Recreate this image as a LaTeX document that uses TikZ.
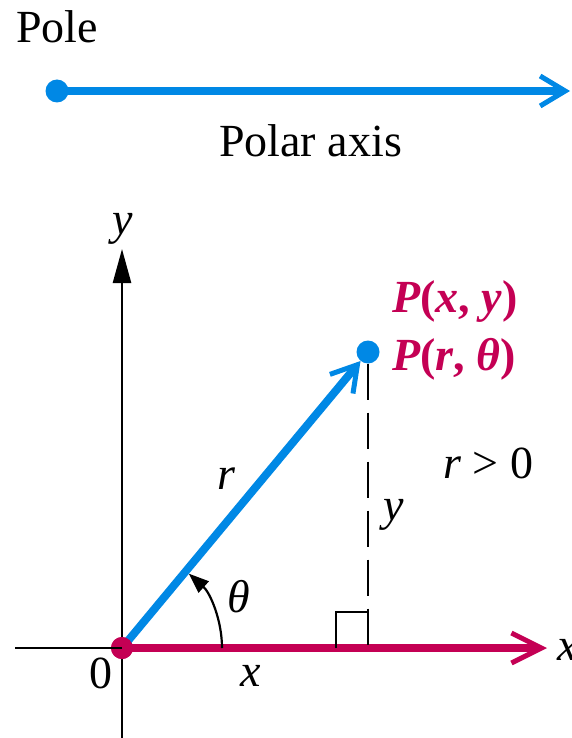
\documentclass[tikz,border=0pt]{standalone}
\usepackage{fontspec}
\setmainfont{Liberation Serif}
\usetikzlibrary{arrows.meta}
\definecolor{polblue}{RGB}{0,136,229}
\definecolor{polmag}{RGB}{196,0,84}
\begin{document}
\begin{tikzpicture}[x=1pt,y=-1pt,
  lbl/.style={inner sep=0pt, anchor=base west, font=\fontsize{46}{50}\selectfont},
  maglbl/.style={lbl, text=polmag, font=\fontsize{46}{50}\selectfont\bfseries},
  bluedot/.style={circle, fill=polblue, inner sep=0pt, minimum size=23pt},
  magdot/.style={circle, fill=polmag, inner sep=0pt, minimum size=22pt},
  bluevec/.style={draw=polblue, line width=8pt,
    -{Straight Barb[length=25pt, width=30pt, line width=5pt]}},
  magvec/.style={draw=polmag, line width=8pt,
    -{Straight Barb[length=30pt, width=30pt, line width=5pt]}},
  axisline/.style={draw=black, line width=2.5pt},
  helper/.style={draw=black, line width=2.5pt}
]
\useasboundingbox (0,0) rectangle (572,738);

% ---- top: pole and polar axis
\node[lbl] (poletxt) at (16,43) {Pole};
\node[bluedot] (pole) at (57,91) {};
\coordinate (axisend) at (570,91);
\draw[bluevec] (pole.center) -- (axisend);
\node[lbl] (axistxt) at (219,157) {Polar axis};

% ---- bottom: coordinate system
\coordinate (ybot) at (122,738);
\coordinate (ytop) at (122,249);
\coordinate (xleft) at (15,648);
\draw[axisline, -{Triangle[length=34pt, width=18pt]}] (ybot) -- (ytop);
\node[lbl] (ylab) at (112,234) {\textit{y}};

\node[magdot] (O) at (122,648) {};
\draw[axisline] (xleft) -- (O.center);
\coordinate (xend) at (547,648);
\draw[magvec] (O.center) -- (xend);
\node[lbl] (xlab) at (557,660) {\textit{x}};

% right angle mark and dashed line
\node[bluedot] (P) at (368,352) {};
\coordinate (foot) at (368,648);
\coordinate (c1) at (336,648);
\coordinate (c2) at (336,612);
\coordinate (c3) at (368,612);
\draw[helper, dash pattern=on 36pt off 13pt] (P.south) -- (foot);
\draw[helper] (c1) -- (c2) -- (c3);

% radius vector
\draw[bluevec] (O.center) -- (P);
\node[magdot] (O2) at (122,648) {};
\draw[axisline] (O2.center) -- ++(-11,0);

% angle arc
\coordinate (arcstart) at (222,648);
\draw[helper, line width=2.2pt, -{Triangle[length=20pt, width=15pt]}]
  (arcstart) arc[start angle=0, end angle=48, radius=100pt];

% labels
\node[maglbl] (Pxy) at (392,312) {\textit{P}(\textit{x}, \textit{y})};
\node[maglbl] (Prt) at (392,370) {\textit{P}(\textit{r}, \textit{θ})};
\node[lbl] (rlab) at (217,489) {\textit{r}};
\node[lbl] (ydash) at (383,520) {\textit{y}};
\node[lbl] (rgt) at (443,478) {\textit{r} > 0};
\node[lbl] (thlab) at (227,612) {\textit{θ}};
\node[lbl] (zero) at (89,688) {0};
\node[lbl] (xlow) at (240,686) {\textit{x}};
\end{tikzpicture}
\end{document}
